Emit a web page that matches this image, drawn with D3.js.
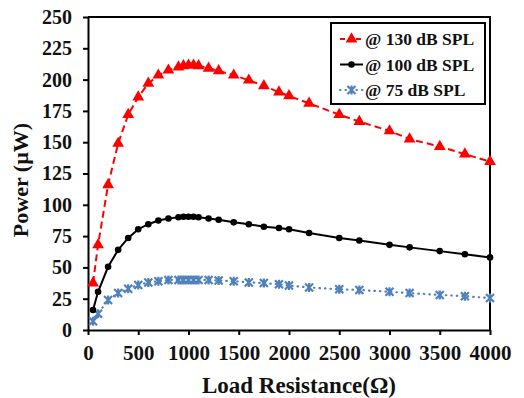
<!doctype html>
<meta charset=utf8>
<title>Power vs load resistance</title>
<style>
  body { margin: 0; background: white; }
  svg { display: block; }
  text { font-family: "Liberation Serif", "Times New Roman", serif; font-weight: bold; fill: #111; }
</style>
<svg width=524 height=398></svg>
<script src=https://d3js.org/d3.v7.min.js></script>
<script>
  var resistance = [50, 100, 200, 300, 400, 500, 600, 700, 800, 900, 950, 1000, 1050, 1100, 1200, 1300, 1450, 1600, 1750, 1900, 2000, 2200, 2500, 2700, 3000, 3200, 3500, 3750, 4000];
  var power130 = [37.5, 68, 116, 149, 172, 186, 197, 203.5, 207.5, 210, 211, 211.5, 211.5, 211, 209, 207, 203.5, 199.5, 195, 190, 187, 181, 172, 166.5, 159, 152.5, 146.5, 140.5, 134.5];
  var power100 = [16, 30.5, 50.5, 64, 73.5, 80.5, 84.5, 87.5, 89, 90, 90.5, 90.5, 90.5, 90, 89, 88, 86, 84.5, 82.5, 81.5, 80.5, 77.5, 73.5, 71.5, 68, 66, 63, 60.5, 58];
  var power75 = [7, 13, 24, 29.5, 33, 36, 38, 39, 40, 40, 40, 40, 40, 40, 40, 39.5, 39, 38, 37.5, 36.5, 35.5, 34, 32.5, 32, 30.5, 29.5, 28, 27, 25.5];
  var xTicks = [0, 500, 1000, 1500, 2000, 2500, 3000, 3500, 4000];
  var yTicks = [0, 25, 50, 75, 100, 125, 150, 175, 200, 225, 250];
  var seriesNames = ['@ 130 dB SPL', '@ 100 dB SPL', '@ 75 dB SPL'];

  var svg = d3.select('svg');
  var mLeft = 88, mRight = 490, mTop = 17, mBottom = 330;

  var x = d3.scaleLinear().domain([0, 4000]).range([mLeft, mRight]);
  var y = d3.scaleLinear().domain([0, 250]).range([mBottom, mTop]);

  var series = [
    { name: seriesNames[0], values: power130, color: '#ff0000', dash: '7,4', width: 2, marker: 'triangle' },
    { name: seriesNames[1], values: power100, color: '#000000', dash: null, width: 2, marker: 'circle' },
    { name: seriesNames[2], values: power75, color: '#4f81bd', dash: '0.5,5', width: 2.2, marker: 'star' }
  ];

  // axes
  var xAxis = svg.append('g')
    .attr('transform', 'translate(0,' + mBottom + ')')
    .call(d3.axisBottom(x).tickValues(xTicks).tickFormat(d3.format('d')).tickSize(5).tickPadding(10).tickSizeOuter(0));
  var yAxis = svg.append('g')
    .attr('transform', 'translate(' + mLeft + ',0)')
    .call(d3.axisLeft(y).tickValues(yTicks).tickSize(5).tickPadding(11).tickSizeOuter(0));
  [xAxis, yAxis].forEach(function (a, i) {
    a.select('.domain').attr('stroke', '#000').attr('stroke-width', 2);
    a.selectAll('.tick line').attr('stroke', '#000').attr('stroke-width', 2);
    a.selectAll('.tick text').attr('font-family', '"Liberation Serif", serif').attr('font-weight', 'bold')
      .attr('font-size', i === 0 ? 21 : 20).attr('fill', '#111');
  });

  // frame top and right
  svg.append('path')
    .attr('d', 'M' + mLeft + ',' + mTop + 'H' + mRight + 'V' + mBottom)
    .attr('fill', 'none').attr('stroke', '#000').attr('stroke-width', 2);

  var line = d3.line().x(function (d) { return x(d[0]); }).y(function (d) { return y(d[1]); });

  function drawMarker(g, type, color) {
    if (type === 'triangle') {
      g.append('path').attr('d', d3.symbol(d3.symbolTriangle, 60)()).attr('fill', color);
    } else if (type === 'circle') {
      g.append('circle').attr('r', 3.3).attr('fill', color);
    } else {
      g.append('path').attr('d', 'M-4,-4L4,4M-4,4L4,-4M0,-4.5V4.5').attr('stroke', color).attr('stroke-width', 2.2);
    }
  }

  // draw in back-to-front order: blue, black, red
  series.slice().reverse().forEach(function (s) {
    var pts = resistance.map(function (r, i) { return [r, s.values[i]]; });
    svg.append('path')
      .datum(pts)
      .attr('d', line)
      .attr('fill', 'none')
      .attr('stroke', s.color)
      .attr('stroke-width', s.width)
      .attr('stroke-linecap', s.marker === 'star' ? 'round' : 'butt')
      .attr('stroke-dasharray', s.dash);
    svg.append('g').selectAll('g').data(pts).enter().append('g')
      .attr('transform', function (d) { return 'translate(' + x(d[0]) + ',' + y(d[1]) + ')'; })
      .each(function () { drawMarker(d3.select(this), s.marker, s.color); });
  });

  // legend
  var lg = svg.append('g');
  lg.append('rect').attr('x', 331).attr('y', 23).attr('width', 154).attr('height', 81)
    .attr('fill', 'white').attr('stroke', '#000').attr('stroke-width', 2);
  series.forEach(function (s, i) {
    var ly = 39 + i * 25.5;
    lg.append('line').attr('x1', 340).attr('x2', 363).attr('y1', ly).attr('y2', ly)
      .attr('stroke', s.color).attr('stroke-width', s.width)
      .attr('stroke-linecap', s.marker === 'star' ? 'round' : 'butt')
      .attr('stroke-dasharray', s.marker === 'triangle' ? '5,3' : s.dash);
    var m = lg.append('g').attr('transform', 'translate(351.5,' + ly + ')');
    drawMarker(m, s.marker, s.color);
    lg.append('text').attr('x', 365).attr('y', ly + 6).attr('font-size', 17.5).text(s.name);
  });

  // axis titles
  svg.append('text').attr('x', 299).attr('y', 393).attr('text-anchor', 'middle').attr('font-size', 23)
    .text('Load Resistance(Ω)');
  svg.append('text').attr('transform', 'translate(28,180) rotate(-90)').attr('text-anchor', 'middle').attr('font-size', 22)
    .text('Power (µW)');
</script>
